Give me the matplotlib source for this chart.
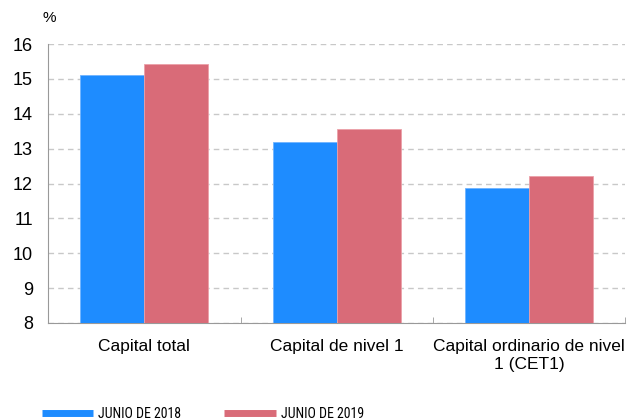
import numpy as np
import matplotlib.pyplot as plt
from matplotlib.lines import Line2D

categories = ["Capital total", "Capital de nivel 1", "Capital ordinario de nivel\n1 (CET1)"]
series_names = ["JUNIO DE 2018", "JUNIO DE 2019"]
jun_2018 = [15.11, 13.19, 11.87]
jun_2019 = [15.43, 13.56, 12.22]
colors = ["#1e8cff", "#d96b78"]

plt.rcParams["font.family"] = ["Liberation Sans", "DejaVu Sans"]

fig = plt.figure(figsize=(6.27, 4.2), dpi=100)
ax = fig.add_axes([0.0766, 0.231, 0.921, 0.664])

x = np.arange(len(categories))
w = 0.333
ax.bar(x - w / 2, jun_2018, w, bottom=0, color=colors[0], edgecolor="#6fb4ff", linewidth=0.6, zorder=3)
ax.bar(x + w / 2, jun_2019, w, bottom=0, color=colors[1], edgecolor="#eba0a9", linewidth=0.6, zorder=3)

ax.set_ylim(8, 16)
ax.set_xlim(-0.5, len(categories) - 0.5)
ax.set_yticks(range(8, 17))
ax.yaxis.grid(True, linestyle=(0, (4, 3)), color="#c8c8c8", linewidth=1, zorder=0)

for side in ["top", "right"]:
    ax.spines[side].set_visible(False)
ax.spines["left"].set_color("#999999")
ax.spines["bottom"].set_color("#999999")

ax.set_xticks(x)
ax.set_xticklabels(categories, fontsize=12.5, linespacing=1.25)
ax.tick_params(axis="x", length=0, pad=11.5)
ax.set_xticks(np.arange(-0.5, len(categories)), minor=True)
ax.tick_params(axis="x", which="minor", direction="in", length=4, color="#999999")
ax.tick_params(axis="y", length=0, labelsize=13, pad=11)

fig.text(0.078, 0.958, "%", fontsize=11, ha="center", va="center")

handles = [Line2D([0], [0], color=c, linewidth=5, solid_capstyle="butt") for c in colors]
leg = fig.legend(handles, series_names, loc="lower left", bbox_to_anchor=(0.047, -0.032),
                 ncol=2, frameon=False, handlelength=3.7, handletextpad=0.35,
                 columnspacing=3.1, prop={"family": ["Roboto Condensed", "DejaVu Sans"], "size": 10})

fig.savefig("out.png", dpi=100)
